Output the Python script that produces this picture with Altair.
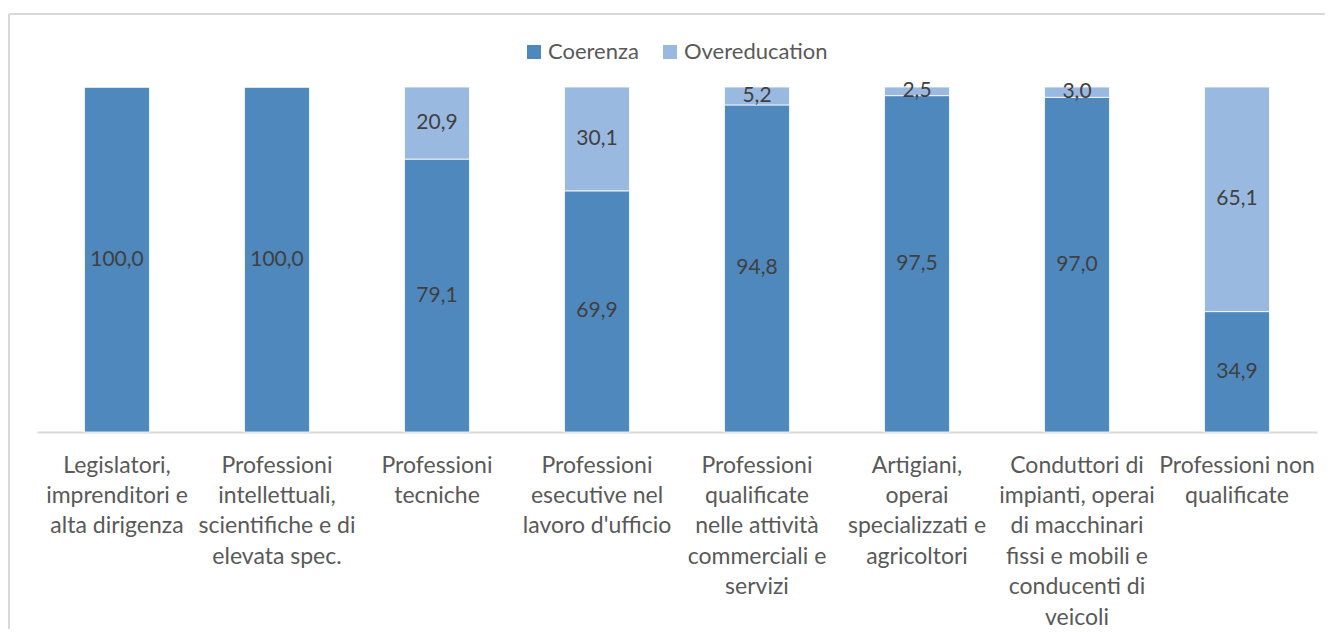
import altair as alt
import pandas as pd

categories = [
    "Legislatori,|imprenditori e|alta dirigenza",
    "Professioni|intellettuali,|scientifiche e di|elevata spec.",
    "Professioni|tecniche",
    "Professioni|esecutive nel|lavoro d'ufficio",
    "Professioni|qualificate|nelle attività|commerciali e|servizi",
    "Artigiani,|operai|specializzati e|agricoltori",
    "Conduttori di|impianti, operai|di macchinari|fissi e mobili e|conducenti di|veicoli",
    "Professioni non|qualificate",
]
series = ["Coerenza", "Overeducation"]
coerenza = [100.0, 100.0, 79.1, 69.9, 94.8, 97.5, 97.0, 34.9]
overeducation = [0.0, 0.0, 20.9, 30.1, 5.2, 2.5, 3.0, 65.1]
colors = ["#4F88BC", "#9AB9E0"]

rows = []
for i, c in enumerate(categories):
    rows.append({"cat": c, "serie": series[0], "value": coerenza[i], "ord": 0})
    rows.append({"cat": c, "serie": series[1], "value": overeducation[i], "ord": 1})
df = pd.DataFrame(rows)

FONT = "Lato"
TXT = "#404040"
AXT = "#595959"

x_enc = alt.X(
    "cat:N",
    sort=categories,
    title=None,
    scale=alt.Scale(paddingInner=0.594, paddingOuter=0.297),
    axis=alt.Axis(
        labelExpr="split(datum.label, '|')",
        labelAngle=0,
        labelFont=FONT,
        labelFontSize=23,
        labelColor=AXT,
        labelLineHeight=30.4,
        labelBaseline="top",
        labelPadding=22,
        ticks=False,
        domainColor="#D9D9D9",
        domainWidth=2,
        labelLimit=300,
    ),
)

base = alt.Chart(df).transform_stack(
    stack="value", groupby=["cat"], as_=["y0", "y1"], sort=[alt.SortField("ord", order="ascending")]
)

bars = base.mark_bar(stroke="white", strokeWidth=0.8).encode(
    x=x_enc,
    y=alt.Y("y0:Q", scale=alt.Scale(domain=[0, 100]), axis=None),
    y2="y1:Q",
    color=alt.Color(
        "serie:N",
        scale=alt.Scale(domain=series, range=colors),
        legend=alt.Legend(
            title=None,
            orient="none",
            direction="horizontal",
            legendX=486,
            legendY=-46,
            symbolType="square",
            symbolSize=196,
            symbolStrokeWidth=0,
            labelFont=FONT,
            labelFontSize=22,
            labelColor=AXT,
            columnPadding=20,
            labelOffset=3,
        ),
    ),
)

labels = base.transform_filter("datum.value > 0").transform_calculate(
    mid="(datum.y0 + datum.y1) / 2",
    lab="replace(format(datum.value, '.1f'), '.', ',')",
).mark_text(font=FONT, fontSize=21, color=TXT).encode(
    x=alt.X("cat:N", sort=categories),
    y=alt.Y("mid:Q"),
    text="lab:N",
)

frame_top = alt.Chart(pd.DataFrame({"k": [0]})).mark_rule(color="#D9D9D9", strokeWidth=2).encode(
    x=alt.value(-28), x2=alt.value(1330), y=alt.value(-73)
)
frame_left = alt.Chart(pd.DataFrame({"k": [0]})).mark_rule(color="#D9D9D9", strokeWidth=2).encode(
    x=alt.value(-28), y=alt.value(-73), y2=alt.value(560)
)

chart = alt.layer(frame_top, frame_left, bars, labels).properties(
    width=1280,
    height=345,
    padding={"left": 29, "top": 79, "right": 8, "bottom": 197},
    autosize=alt.AutoSizeParams(type="none"),
).configure_view(stroke=None)

chart.save("out.html", embed_options={"renderer": "svg", "actions": False})
